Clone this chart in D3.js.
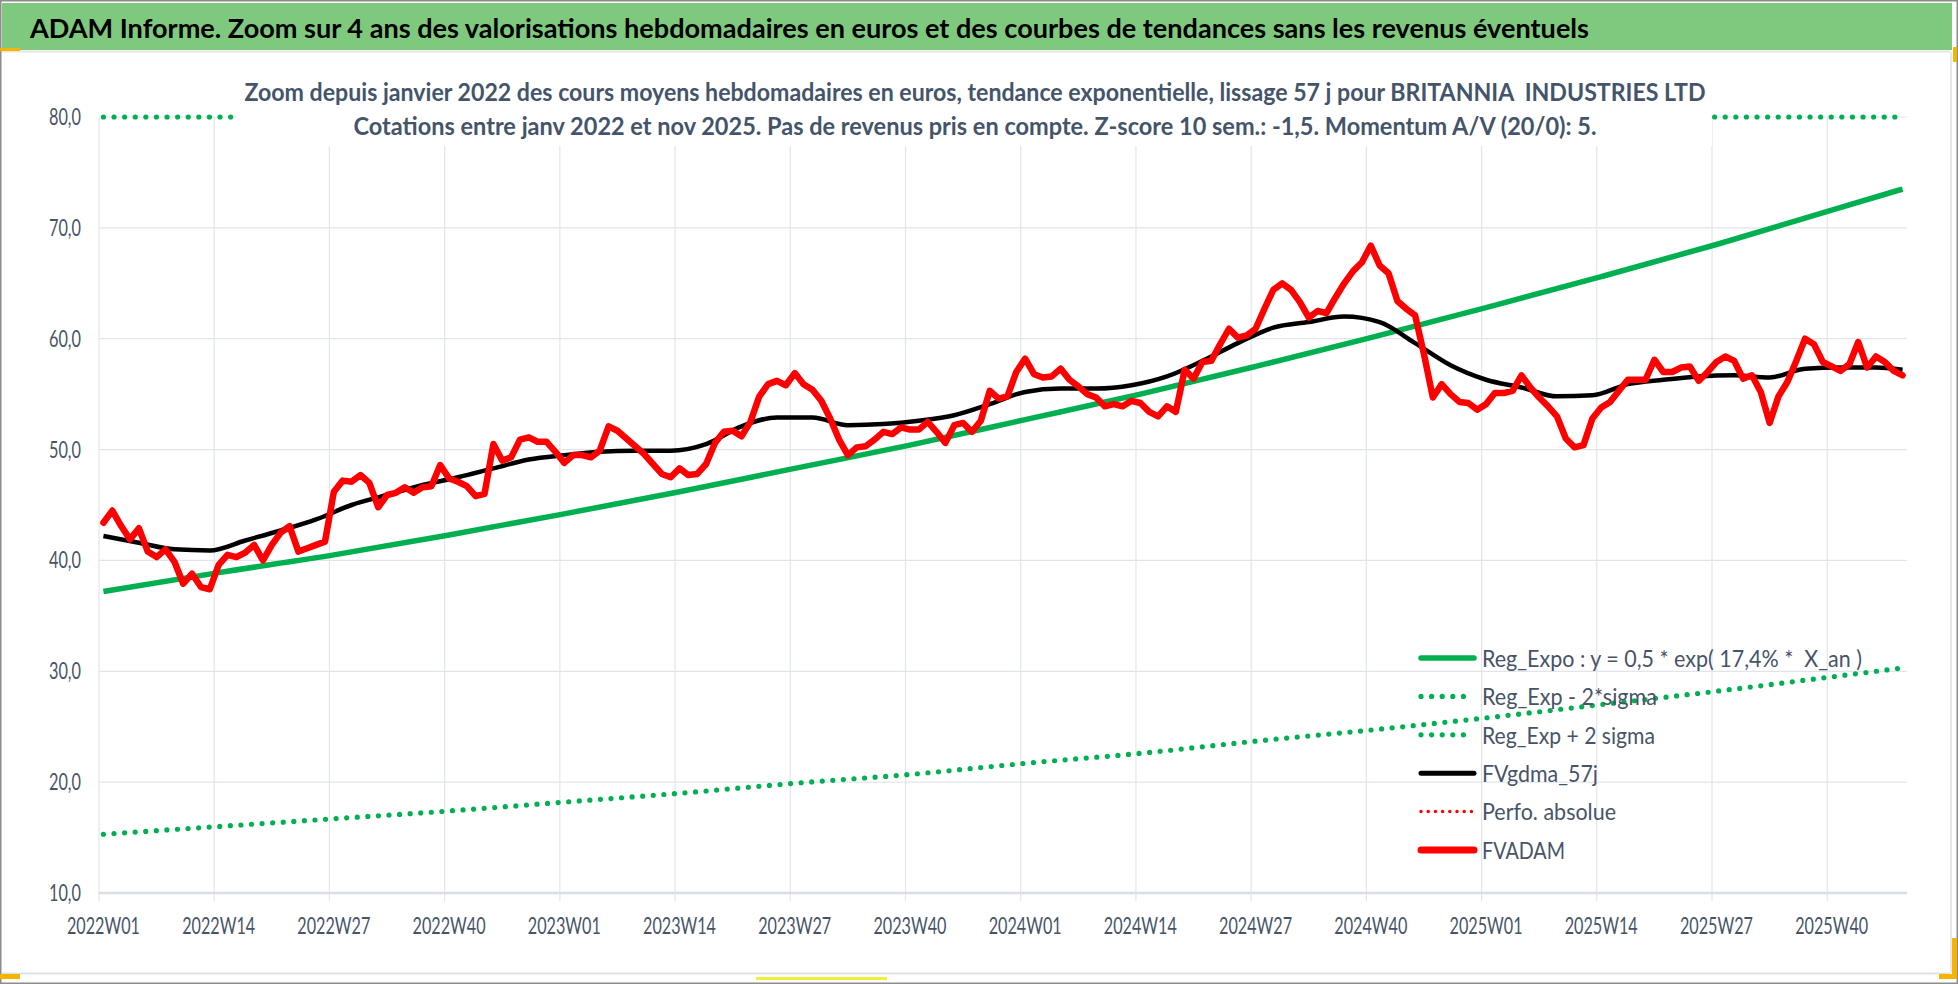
<!DOCTYPE html>
<html>
<head>
<meta charset="utf-8">
<script src="https://cdn.jsdelivr.net/npm/d3@7"></script>
<style>
body { margin: 0; background: #fff; }
text { font-family: Lato, "Open Sans", "DejaVu Sans", sans-serif; white-space: pre; }
</style>
</head>
<body>
<svg id="chart" width="1958" height="984"></svg>
<script>
// ---- data ----
const years = [2022, 2023, 2024, 2025];
const lastWeek2025 = 48;   // cotations jusqu'a nov 2025

const tickWeeks = ["2022W01","2022W14","2022W27","2022W40","2023W01","2023W14","2023W27","2023W40",
                   "2024W01","2024W14","2024W27","2024W40","2025W01","2025W14","2025W27","2025W40"];
const yTicks = [10, 20, 30, 40, 50, 60, 70, 80];

// FVADAM : cours moyen hebdo (euros), une valeur par semaine
const fvadam = [
 43.4,44.5,43.1,41.9,42.9,40.8,40.3,41.0,39.9,37.9,38.8,37.6,37.4,39.6,40.5,40.3,40.7,41.4,40.0,41.4,
 42.5,43.1,40.8,41.1,41.4,41.7,46.2,47.2,47.1,47.7,47.0,44.8,45.9,46.1,46.6,46.1,46.6,46.7,48.6,47.4,
 47.1,46.7,45.8,46.0,50.5,49.0,49.3,50.9,51.1,50.7,50.7,49.8,48.8,49.5,49.5,49.3,49.9,52.1,51.7,51.0,
 50.3,49.6,48.7,47.8,47.5,48.3,47.7,47.8,48.7,50.6,51.6,51.7,51.2,52.5,54.8,55.9,56.2,55.8,56.9,55.9,
 55.4,54.4,52.8,50.9,49.5,50.2,50.3,50.9,51.6,51.4,52.0,51.8,51.8,52.5,51.6,50.6,52.2,52.4,51.6,52.6,
 55.3,54.6,54.8,57.0,58.2,56.8,56.5,56.6,57.3,56.3,55.7,55.0,54.7,53.9,54.1,53.9,54.4,54.2,53.4,53.0,
 53.9,53.4,57.2,56.4,57.9,58.0,59.5,60.9,60.1,60.3,60.9,62.7,64.4,65.0,64.4,63.3,61.9,62.5,62.3,63.7,
 65.0,66.1,66.9,68.4,66.6,65.9,63.4,62.7,62.1,58.6,54.7,55.9,55.0,54.3,54.2,53.6,54.1,55.1,55.1,55.3,
 56.7,55.6,54.7,53.9,53.0,51.0,50.2,50.4,52.8,53.8,54.3,55.3,56.3,56.3,56.3,58.1,57.0,57.0,57.4,57.5,
 56.2,57.0,57.9,58.4,58.0,56.4,56.7,55.2,52.4,54.8,56.1,58.0,60.0,59.5,57.9,57.5,57.1,57.7,59.7,57.4,
 58.4,57.9,57.1,56.7
];

// FVgdma_57j : lissage, lu toutes les 4 semaines (+ derniere semaine)
const gdmaValues = [
 42.2,41.6,41.0,40.9,41.8,42.7,43.7,45.0,45.9,46.8,47.5,48.3,49.1,49.5,49.8,49.9,49.9,50.5,52.1,52.9,
 52.9,52.2,52.3,52.6,53.1,54.1,55.2,55.5,55.5,55.8,56.6,58.0,59.6,61.0,61.5,62.0,61.5,59.6,57.6,56.3,
 55.6,54.8,54.9,55.9,56.3,56.6,56.7,56.5,57.3,57.4,57.4,57.2
];

// regression exponentielle et bandes +/- 2 sigma, lues a chaque repere (+ derniere semaine)
const regExpo  = [37.2,38.9,40.5,42.3,44.2,46.2,48.3,50.4,52.7,55.0,57.5,60.1,62.8,65.6,68.5,71.6,73.5];
const regMinus = [15.3,16.0,16.7,17.4,18.2,19.0,19.9,20.7,21.7,22.6,23.7,24.7,25.8,27.0,28.2,29.5,30.3];
const regPlus  = [90.5,94.6,98.6,102.9,107.5,112.4,117.5,122.6,128.2,133.8,139.9,146.2,152.8,159.6,166.7,174.2,178.8];

const legendLabels = ["Reg_Expo : y = 0,5 * exp( 17,4% *  X_an )", "Reg_Exp - 2*sigma", "Reg_Exp + 2 sigma",
                      "FVgdma_57j", "Perfo. absolue", "FVADAM"];

const bannerTitle = "ADAM Informe. Zoom sur 4 ans des valorisations hebdomadaires en euros et des courbes de tendances sans les revenus éventuels";
const chartTitle1 = "Zoom depuis janvier 2022 des cours moyens hebdomadaires en euros, tendance exponentielle, lissage 57 j pour BRITANNIA  INDUSTRIES LTD";
const chartTitle2 = "Cotations entre janv 2022 et nov 2025. Pas de revenus pris en compte. Z-score 10 sem.: -1,5. Momentum A/V (20/0): 5.";

// ---- categories ----
let weeks = [];
years.forEach(function (y) {
  for (let w = 1; w <= 52; w++) {
    if (y === 2025 && w > lastWeek2025) break;
    weeks.push(y + "W" + (w < 10 ? "0" + w : w));
  }
});
const gdmaWeeks = weeks.filter(function (d, i) { return i % 4 === 0 || i === weeks.length - 1; });
const trendWeeks = tickWeeks.concat([weeks[weeks.length - 1]]);

// ---- drawing ----
const svg = d3.select("#chart");
const plot = {left: 99, right: 1907, top: 117, bottom: 893};
const gridColor = "#e1e5eb";
const labelColor = "#475467";

const x = d3.scaleBand().domain(weeks).range([plot.left, plot.right]).padding(0);
const y = d3.scaleLinear().domain([10, 80]).range([plot.bottom, plot.top]).clamp(true);
const cx = function (w) { return x(w) + x.bandwidth() / 2; };

// frame, banner, excel bits
svg.append("rect").attr("x", 0).attr("y", 0).attr("width", 1958).attr("height", 984).attr("fill", "#fff");
svg.append("rect").attr("x", 2).attr("y", 3).attr("width", 1950).attr("height", 47).attr("fill", "#7fc97f");
svg.append("line").attr("x1", 2).attr("x2", 1950).attr("y1", 51.5).attr("y2", 51.5).attr("stroke", "#e3e6e3").attr("stroke-width", 2);
svg.append("line").attr("x1", 2).attr("x2", 1950).attr("y1", 973.5).attr("y2", 973.5).attr("stroke", "#dde1e6").attr("stroke-width", 2);
svg.append("line").attr("x1", 1951).attr("x2", 1951).attr("y1", 52).attr("y2", 973).attr("stroke", "#dde1e6").attr("stroke-width", 1.5);
svg.append("rect").attr("x", 0.75).attr("y", 0.75).attr("width", 1956.5).attr("height", 982.5)
   .attr("fill", "none").attr("stroke", "#8c8c8c").attr("stroke-width", 1.5);
svg.append("rect").attr("x", 0).attr("y", 48).attr("width", 20).attr("height", 3).attr("fill", "#f4b400");
svg.append("rect").attr("x", 1953).attr("y", 47).attr("width", 4).attr("height", 15).attr("fill", "#f4b400");
svg.append("rect").attr("x", 0).attr("y", 974).attr("width", 20).attr("height", 5).attr("fill", "#f4b400");
svg.append("rect").attr("x", 1952).attr("y", 938).attr("width", 5).attr("height", 41).attr("fill", "#f4b400");
svg.append("rect").attr("x", 1939).attr("y", 974).attr("width", 18).attr("height", 5).attr("fill", "#f4b400");
svg.append("rect").attr("x", 756).attr("y", 977).attr("width", 131).attr("height", 3).attr("fill", "#f2ee3c");

svg.append("text").attr("x", 30).attr("y", 38).attr("font-size", 27).attr("font-weight", "bold")
   .attr("fill", "#000").attr("textLength", 1559).attr("lengthAdjust", "spacingAndGlyphs").text(bannerTitle);

// gridlines
svg.append("g").selectAll("line").data(yTicks.slice(1)).join("line")
   .attr("x1", plot.left).attr("x2", plot.right)
   .attr("y1", function (d) { return y(d); }).attr("y2", function (d) { return y(d); })
   .attr("stroke", gridColor).attr("stroke-width", 1.2);
svg.append("g").selectAll("line").data(tickWeeks).join("line")
   .attr("x1", function (d) { return x(d); }).attr("x2", function (d) { return x(d); })
   .attr("y1", plot.top).attr("y2", plot.bottom + 8)
   .attr("stroke", gridColor).attr("stroke-width", 1.2);
svg.append("line").attr("x1", plot.left).attr("x2", plot.right)
   .attr("y1", y(10)).attr("y2", y(10)).attr("stroke", "#d9dee5").attr("stroke-width", 2.5);

// axis labels
svg.append("g").selectAll("text").data(yTicks).join("text")
   .attr("x", 81).attr("y", function (d) { return y(d) + 8; })
   .attr("text-anchor", "end").attr("font-size", 22.5).attr("fill", labelColor)
   .attr("textLength", 32).attr("lengthAdjust", "spacingAndGlyphs")
   .text(function (d) { return d3.format(".1f")(d).replace(".", ","); });
svg.append("g").selectAll("text").data(tickWeeks).join("text")
   .attr("x", function (d) { return cx(d); }).attr("y", 934)
   .attr("text-anchor", "middle").attr("font-size", 23).attr("fill", labelColor)
   .attr("textLength", 73).attr("lengthAdjust", "spacingAndGlyphs")
   .text(function (d) { return d; });

// series
const trendLine = d3.line().x(function (d) { return cx(d[0]); }).y(function (d) { return y(d[1]); })
                    .curve(d3.curveMonotoneX);
const weekLine = d3.line().x(function (d, i) { return cx(weeks[i]); }).y(function (d) { return y(d); });

function pairs(ws, vs) { return ws.map(function (w, i) { return [w, vs[i]]; }); }

svg.append("path").attr("d", trendLine(pairs(trendWeeks, regExpo)))
   .attr("fill", "none").attr("stroke", "#00b050").attr("stroke-width", 5.5).attr("stroke-linejoin", "round");
svg.append("path").attr("d", trendLine(pairs(trendWeeks, regMinus)))
   .attr("fill", "none").attr("stroke", "#00b050").attr("stroke-width", 5.2)
   .attr("stroke-linecap", "round").attr("stroke-dasharray", "0 10.6");
svg.append("path").attr("d", trendLine(pairs(trendWeeks, regPlus)))
   .attr("fill", "none").attr("stroke", "#00b050").attr("stroke-width", 5.2)
   .attr("stroke-linecap", "round").attr("stroke-dasharray", "0 10.6");
svg.append("path").attr("d", trendLine(pairs(gdmaWeeks, gdmaValues)))
   .attr("fill", "none").attr("stroke", "#000").attr("stroke-width", 4.5).attr("stroke-linejoin", "round");
svg.append("path").attr("d", weekLine(fvadam))
   .attr("fill", "none").attr("stroke", "#ff0000").attr("stroke-width", 3)
   .attr("stroke-linecap", "round").attr("stroke-dasharray", "0 6");
svg.append("path").attr("d", weekLine(fvadam))
   .attr("fill", "none").attr("stroke", "#ff0000").attr("stroke-width", 6.5)
   .attr("stroke-linejoin", "round").attr("stroke-linecap", "round");

// chart title box (sits over the plot)
svg.append("rect").attr("x", 237).attr("y", 62).attr("width", 1475).attr("height", 84).attr("fill", "#fff");
svg.append("text").attr("x", 975).attr("y", 101).attr("text-anchor", "middle")
   .attr("font-size", 25).attr("font-weight", "bold").attr("fill", "#44546a")
   .attr("textLength", 1461).attr("lengthAdjust", "spacingAndGlyphs").text(chartTitle1);
svg.append("text").attr("x", 975).attr("y", 135).attr("text-anchor", "middle")
   .attr("font-size", 25).attr("font-weight", "bold").attr("fill", "#44546a")
   .attr("textLength", 1243).attr("lengthAdjust", "spacingAndGlyphs").text(chartTitle2);

// legend
const legendStyle = [
  {color: "#00b050", width: 5.5, dash: null},
  {color: "#00b050", width: 5.2, dash: "0 10.6"},
  {color: "#00b050", width: 5.2, dash: "0 10.6"},
  {color: "#000000", width: 5, dash: null},
  {color: "#ff0000", width: 3.5, dash: "0 7.2"},
  {color: "#ff0000", width: 7, dash: null}
];
const legendTextWidth = [380, 175, 173, 116, 134, 83];
const legend = svg.append("g").selectAll("g").data(legendLabels).join("g")
   .attr("transform", function (d, i) { return "translate(0," + (658 + i * 38.4) + ")"; });
legend.append("line").attr("x1", 1421).attr("x2", 1474).attr("y1", 0).attr("y2", 0)
   .attr("stroke", function (d, i) { return legendStyle[i].color; })
   .attr("stroke-width", function (d, i) { return legendStyle[i].width; })
   .attr("stroke-linecap", "round")
   .attr("stroke-dasharray", function (d, i) { return legendStyle[i].dash; });
legend.append("text").attr("x", 1482).attr("y", 8.8).attr("font-size", 24).attr("fill", labelColor)
   .attr("textLength", function (d, i) { return legendTextWidth[i]; }).attr("lengthAdjust", "spacingAndGlyphs")
   .text(function (d) { return d; });
</script>
</body>
</html>
